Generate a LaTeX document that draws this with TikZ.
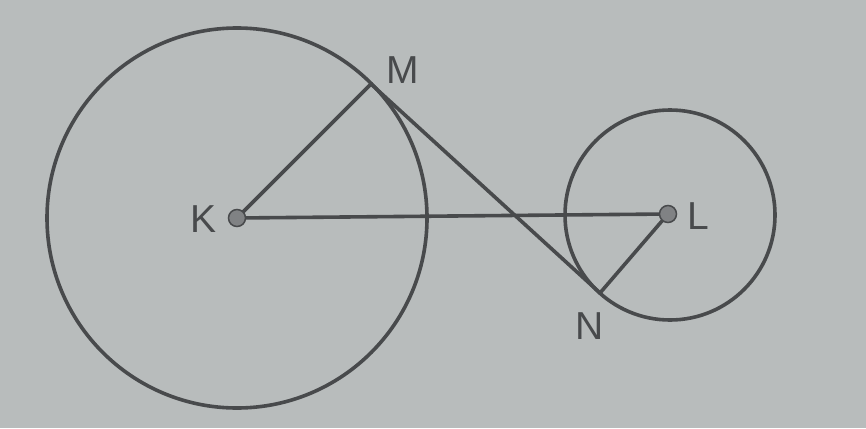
\documentclass[tikz,border=0pt]{standalone}
\usepackage{fontspec}
\setmainfont{Liberation Sans}
\definecolor{bg}{RGB}{184,188,188}
\definecolor{ink}{RGB}{72,74,76}
\definecolor{dotfill}{RGB}{128,130,132}
\begin{document}
\begin{tikzpicture}[x=1pt,y=-1pt,
  geo/.style={draw=ink,line width=3.6pt},
  ctr/.style={circle,draw=ink,fill=dotfill,line width=1.5pt,inner sep=0pt,minimum size=17pt},
  lbl/.style={text=ink,font=\fontsize{39}{39}\selectfont,inner sep=0pt}]
\fill[bg] (0,0) rectangle (866,428);
\useasboundingbox (0,0) rectangle (866,428);
\coordinate (K) at (237,218);
\coordinate (L) at (668,214);
\coordinate (M) at (371,84);
\coordinate (N) at (600,293);
\draw[geo] (K) circle[radius=190];
\draw[geo] (670,215) circle[radius=105];
\draw[geo] (K) -- (M);
\draw[geo] (M) -- (N);
\draw[geo] (K) -- (L);
\draw[geo] (L) -- (N);
\node[ctr] (Kd) at (K) {};
\node[ctr] (Ld) at (L) {};
\node[lbl] (Kl) at (204,219) {K};
\node[lbl] (Ll) at (698,216) {L};
\node[lbl] (Ml) at (403,70) {M};
\node[lbl] (Nl) at (590,326) {N};
\end{tikzpicture}
\end{document}
